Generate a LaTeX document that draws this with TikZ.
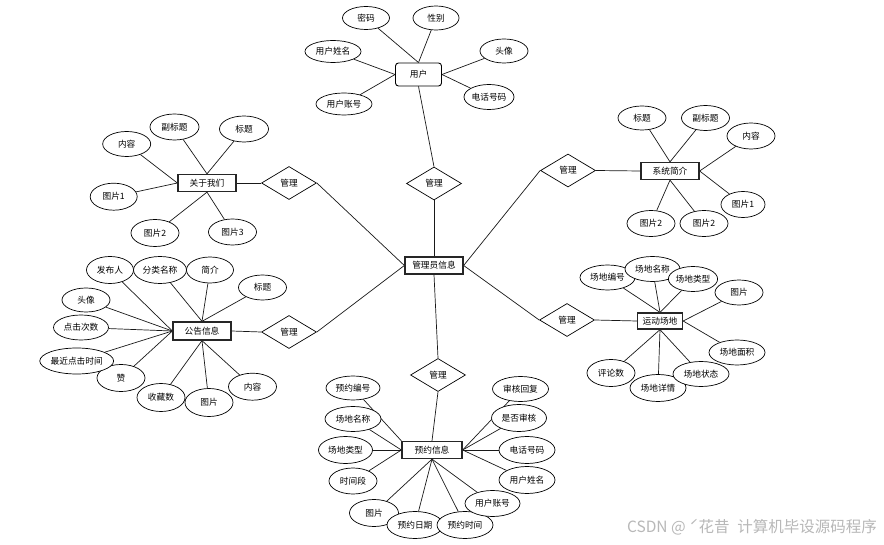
\documentclass[tikz,border=0pt]{standalone}
\usepackage{fontspec}
\setmainfont{Noto Sans CJK SC}
\usetikzlibrary{shapes.geometric,backgrounds}
\tikzset{
  attr/.style 2 args={ellipse,draw=black,fill=white,line width=0.7pt,inner sep=0pt,
    minimum width=#1,minimum height=#2,font=\fontsize{8.7}{10}\selectfont},
  ent/.style 2 args={rectangle,draw=black!85,fill=white,line width=1.3pt,inner sep=0pt,
    minimum width=#1,minimum height=#2,font=\fontsize{8.7}{10}\selectfont},
  rel/.style={diamond,draw=black,fill=white,line width=0.7pt,inner sep=0pt,
    minimum width=55pt,minimum height=33pt,font=\fontsize{8.7}{10}\selectfont},
  link/.style={draw=black!90,line width=0.7pt},
  wm/.style={text=black!28,font=\fontsize{15.5}{18}\selectfont,inner sep=0pt}
}
\begin{document}
\begin{tikzpicture}[x=1pt,y=-1pt]
\useasboundingbox (0,0) rectangle (884,545);

% central
\node[ent={58pt}{17pt}] (admin) at (434,265.5) {管理员信息};
\node[rel] (d1) at (434,183.5) {管理};
\node[rel] (d2) at (289,183) {管理};
\node[rel] (d3) at (289,332) {管理};
\node[rel] (d4) at (438,375) {管理};
\node[rel] (d5) at (568,170.5) {管理};
\node[rel] (d6) at (567,320) {管理};

% user
\node[rectangle,rounded corners=3pt,draw=black,fill=white,line width=0.9pt,inner sep=0pt,
  minimum width=46pt,minimum height=23pt,font=\fontsize{8.7}{10}\selectfont] (user) at (418.5,74.5) {用户};
\node[attr={47pt}{23pt}] (u1) at (366,18) {密码};
\node[attr={46pt}{24pt}] (u2) at (436,18) {性别};
\node[attr={56pt}{22pt}] (u3) at (333,51.5) {用户姓名};
\node[attr={48pt}{24pt}] (u4) at (504,51) {头像};
\node[attr={56pt}{22pt}] (u5) at (344,104) {用户账号};
\node[attr={50pt}{25pt}] (u6) at (489,97) {电话号码};

% about
\node[ent={58pt}{17pt}] (about) at (207,183) {关于我们};
\node[attr={48pt}{25pt}] (a1) at (126.7,144) {内容};
\node[attr={49pt}{26pt}] (a2) at (174.5,127) {副标题};
\node[attr={49pt}{26pt}] (a3) at (244,129) {标题};
\node[attr={47pt}{27pt}] (a4) at (113.7,196.7) {图片1};
\node[attr={48pt}{27pt}] (a5) at (155,233) {图片2};
\node[attr={48pt}{26pt}] (a6) at (232.5,232) {图片3};

% notice
\node[ent={58pt}{18pt}] (notice) at (202,331) {公告信息};
\node[attr={47pt}{27pt}] (n1) at (110,270) {发布人};
\node[attr={53pt}{27pt}] (n2) at (160,270) {分类名称};
\node[attr={47pt}{26pt}] (n3) at (210,270) {简介};
\node[attr={48pt}{25pt}] (n4) at (262.5,287.5) {标题};
\node[attr={48pt}{24pt}] (n5) at (86,300) {头像};
\node[attr={55pt}{25pt}] (n6) at (81,327.5) {点击次数};
\node[attr={48pt}{27pt}] (n8) at (121,378) {赞};
\node[attr={67pt}{26pt}] (n7) at (76.7,361) {最近点击时间};
\node[attr={48pt}{28pt}] (n9) at (161,397.5) {收藏数};
\node[attr={48pt}{28pt}] (n10) at (209,402.5) {图片};
\node[attr={48pt}{27pt}] (n11) at (252.5,386.7) {内容};

% system intro
\node[ent={58pt}{17pt}] (sys) at (670,171) {系统简介};
\node[attr={48pt}{24pt}] (s1) at (642,118) {标题};
\node[attr={48pt}{25pt}] (s2) at (705.5,118) {副标题};
\node[attr={48pt}{26pt}] (s3) at (751,136) {内容};
\node[attr={44pt}{26pt}] (s4) at (743,204.5) {图片1};
\node[attr={48pt}{26pt}] (s5) at (651,223.5) {图片2};
\node[attr={48pt}{26pt}] (s6) at (704,223.5) {图片2};

% field
\node[ent={45pt}{16pt}] (field) at (660,321) {运动场地};
\node[attr={55pt}{25pt}] (f1) at (607.5,277.5) {场地编号};
\node[attr={55pt}{25pt}] (f2) at (652.5,269) {场地名称};
\node[attr={47pt}{25pt}] (f3) at (693,279) {场地类型};
\node[attr={48pt}{25pt}] (f4) at (739,292.5) {图片};
\node[attr={56pt}{25pt}] (f5) at (737,352.5) {场地面积};
\node[attr={56pt}{27pt}] (f7) at (658,388) {场地详情};
\node[attr={56pt}{25pt}] (f6) at (701,374) {场地状态};
\node[attr={48pt}{27pt}] (f8) at (611,373) {评论数};

% reservation
\node[ent={60pt}{17pt}] (res) at (432,450) {预约信息};
\node[attr={54pt}{24pt}] (r1) at (353,388) {预约编号};
\node[attr={56pt}{25pt}] (r2) at (353,419) {场地名称};
\node[attr={54pt}{27pt}] (r3) at (345.5,450) {场地类型};
\node[attr={48pt}{26pt}] (r4) at (353,481) {时间段};
\node[attr={49pt}{27pt}] (r5) at (374,513) {图片};
\node[attr={56pt}{27pt}] (r6) at (415,525) {预约日期};
\node[attr={56pt}{27pt}] (r7) at (465,525) {预约时间};
\node[attr={55pt}{26pt}] (r8) at (492.5,503.5) {用户账号};
\node[attr={56pt}{27pt}] (r9) at (527,480) {用户姓名};
\node[attr={56pt}{27pt}] (r10) at (527,450) {电话号码};
\node[attr={55pt}{27pt}] (r11) at (519,418) {是否审核};
\node[attr={56pt}{25pt}] (r12) at (520.5,389) {审核回复};

% watermark
\node[wm,anchor=east] (wmark) at (877,527.5) {CSDN @ ˊ花昔\enspace 计算机毕设源码程序};

\begin{scope}[on background layer]
\fill[white] (0,0) rectangle (884,545);
% central links
\path[link] (user.south) -- (d1.north);
\path[link] (d1.south) -- (admin.north);
\path[link] (d2.east) -- (admin.west);
\path[link] (d3.east) -- (admin.west);
\path[link] (d4.north) -- (admin.south);
\path[link] (d5.west) -- (admin.east);
\path[link] (d6.west) -- (admin.east);
\path[link] (d2.west) -- (about.east);
\path[link] (d3.west) -- (notice.east);
\path[link] (d5.east) -- (sys.west);
\path[link] (d6.east) -- (field.west);
\path[link] (d4.south) -- (res.north);
% user
\path[link] (u1) -- (user.north);
\path[link] (u2) -- (user.north);
\path[link] (u3) -- (user.west);
\path[link] (u5) -- (user.west);
\path[link] (u4) -- (user.east);
\path[link] (u6) -- (user.east);
% about
\path[link] (a1) -- (about.west);
\path[link] (a4) -- (about.west);
\path[link] (a2) -- (about.north);
\path[link] (a3) -- (about.north);
\path[link] (a5) -- (about.south);
\path[link] (a6) -- (about.south);
% notice
\foreach \n in {n1,n5,n6,n7,n8} \path[link] (\n) -- (notice.west);
\foreach \n in {n2,n3,n4} \path[link] (\n) -- (notice.north);
\foreach \n in {n9,n10,n11} \path[link] (\n) -- (notice.south);
% sys
\foreach \n in {s1,s2} \path[link] (\n) -- (sys.north);
\foreach \n in {s3,s4} \path[link] (\n) -- (sys.east);
\foreach \n in {s5,s6} \path[link] (\n) -- (sys.south);
% field
\foreach \n in {f1,f2,f3} \path[link] (\n) -- (field.north);
\foreach \n in {f4,f5} \path[link] (\n) -- (field.east);
\foreach \n in {f6,f7,f8} \path[link] (\n) -- (field.south);
% reservation
\path[link] (r1) -- (res.north west);
\foreach \n in {r2,r3,r4} \path[link] (\n) -- (res.west);
\foreach \n in {r5,r6,r7,r8} \path[link] (\n) -- (res.south);
\foreach \n in {r9,r10,r11,r12} \path[link] (\n) -- (res.east);
\end{scope}
\end{tikzpicture}
\end{document}
